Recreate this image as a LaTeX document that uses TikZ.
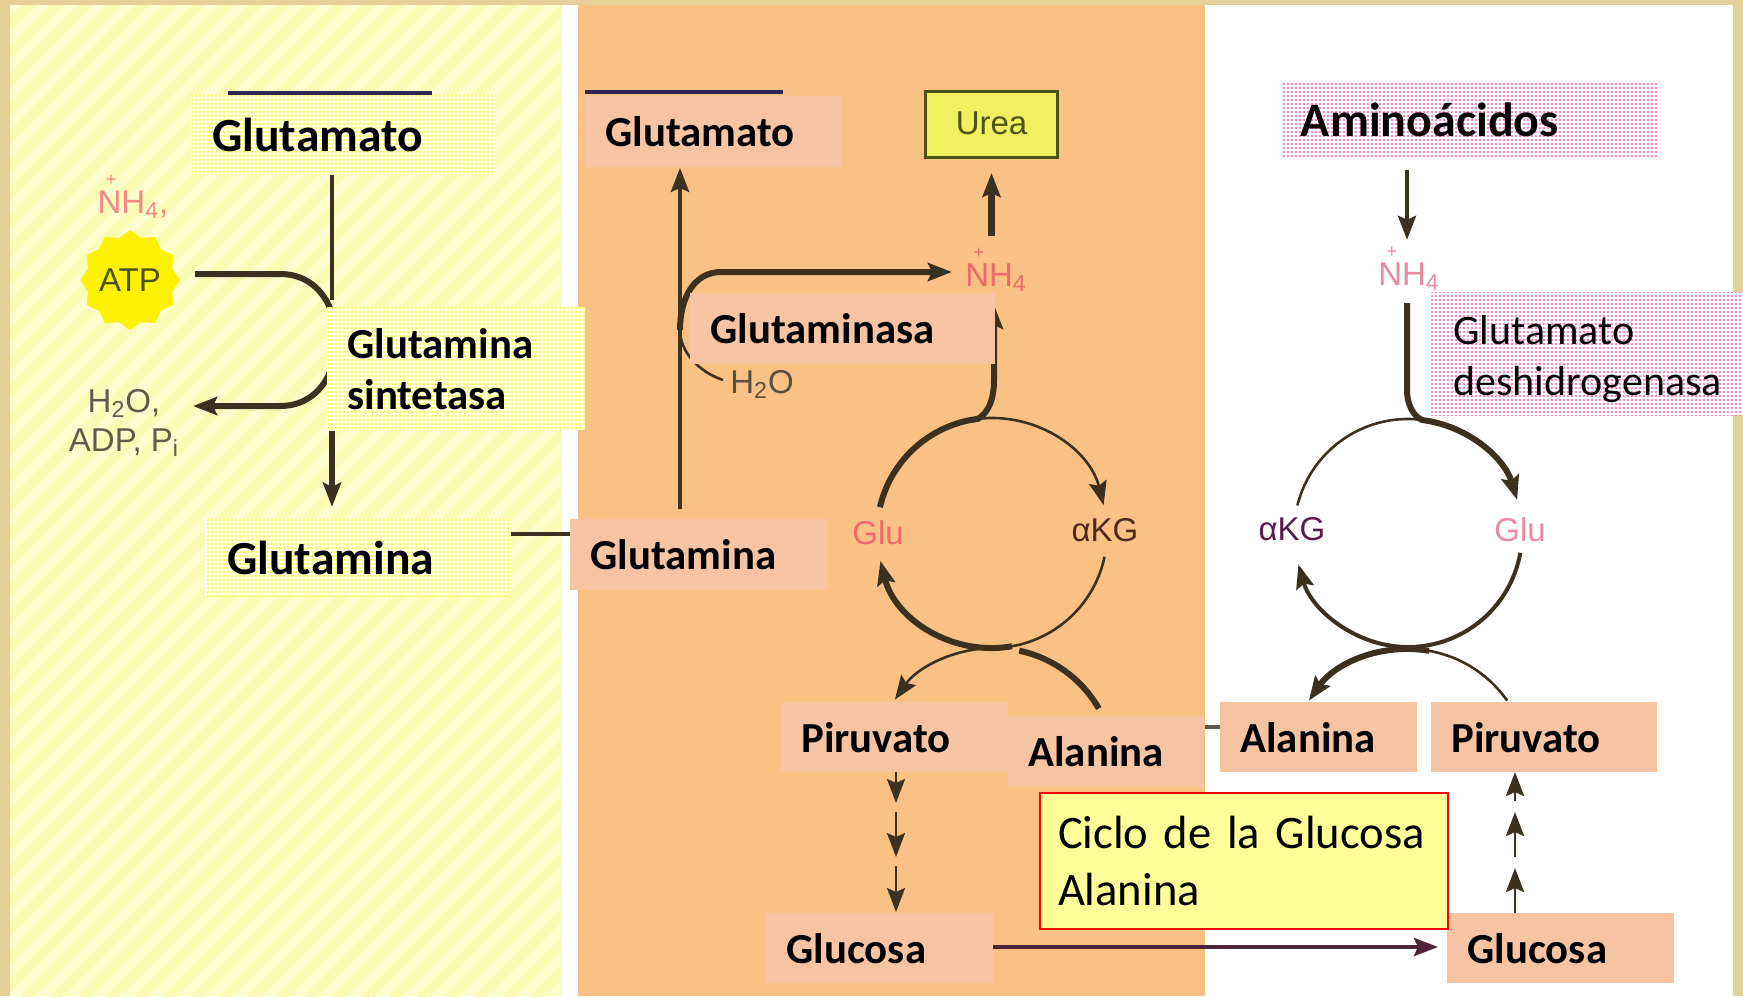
\documentclass[tikz,border=0pt]{standalone}
\usepackage{fontspec}
\setmainfont{Carlito}
\newfontfamily\photofont{Liberation Sans}
\usetikzlibrary{arrows.meta,patterns.meta,shapes.geometric}
\pgfdeclarelayer{panels}
\pgfdeclarelayer{wires}
\pgfsetlayers{panels,wires,main}
\definecolor{frametan}{HTML}{E6D09A}
\definecolor{palelemon}{HTML}{FDFCCC}
\definecolor{stripelemon}{HTML}{FBFBB6}
\definecolor{sheetorange}{HTML}{F9C184}
\definecolor{peach}{HTML}{F6C4A3}
\definecolor{inkbrown}{HTML}{3C3020}
\definecolor{noteyellow}{HTML}{FFFF99}
\definecolor{ureayellow}{HTML}{F0F060}
\definecolor{olive}{HTML}{4E5418}
\definecolor{salmon}{HTML}{EE6A6A}
\definecolor{rosepink}{HTML}{E88AA0}
\definecolor{dotpink}{HTML}{FF55C0}
\definecolor{dotyellow}{HTML}{FFFF33}
\newcommand{\nhfour}{\rlap{\kern.25em\raisebox{.82em}{\fontsize{9pt}{9pt}\selectfont +}}NH\textsubscript{4}}
\tikzset{
	labelbox/.style={anchor=north west, inner ysep=0pt, align=left, font=\fontsize{21.4pt}{25.5pt}\selectfont\bfseries},
	peachbox/.style={labelbox, fill=peach},
	lemonbox/.style={labelbox, preaction={fill=white}, pattern={Dots[distance=2pt,radius=.75pt]}, pattern color=dotyellow},
	pinkbox/.style={labelbox, preaction={fill=white}, pattern={Dots[distance=2pt,radius=.55pt]}, pattern color=dotpink},
	photo/.style={font=\photofont\fontsize{16.5pt}{19.5pt}\selectfont, inner sep=0pt},
	thinwire/.style={draw=inkbrown, line width=1.3pt},
	midwire/.style={draw=inkbrown, line width=2pt},
	thickwire/.style={draw=inkbrown, line width=3pt},
	tipped/.style={-{Stealth[length=12pt,width=9pt,inset=2pt]}},
}
\begin{document}
\begin{tikzpicture}[x=0.5pt,y=-0.5pt]
	\useasboundingbox (0,0) rectangle (1743,996);
	% boxes
	\node[lemonbox, minimum width=152pt, minimum height=39.5pt, text width=141pt, inner xsep=5.5pt, font=\fontsize{23.8pt}{28pt}\selectfont\bfseries] (glutL) at (191,95) {\hspace{5pt}Glutamato};
	\node[lemonbox, minimum width=129pt, minimum height=61.5pt, text width=109pt, inner xsep=10pt] (sintL) at (327,307) {Glutamina\\sintetasa};
	\node[lemonbox, minimum width=152.5pt, minimum height=38.5pt, text width=141.5pt, inner xsep=5.5pt, font=\fontsize{23.8pt}{28pt}\selectfont\bfseries] (glnL) at (205,519) {\hspace{5.5pt}Glutamina};
	\node[peachbox, minimum width=128pt, minimum height=35.5pt, text width=108pt, inner xsep=10pt] (glutM) at (585,96) {Glutamato};
	\node[peachbox, minimum width=129pt, minimum height=35.5pt, text width=109pt, inner xsep=10pt] (glnM) at (570,519) {Glutamina};
	\node[peachbox, minimum width=152.5pt, minimum height=35.5pt, text width=132.5pt, inner xsep=10pt] (enzM) at (690,293) {Glutaminasa};
	\node[draw=olive, fill=ureayellow, line width=1.5pt, minimum width=66pt, minimum height=33pt, anchor=north west, inner sep=0pt, font=\photofont\fontsize{16.5pt}{19.5pt}\selectfont, text=olive] (ureaB) at (924,90) {\raisebox{1pt}{Urea}};
	\node[peachbox, minimum width=113.5pt, minimum height=35pt, text width=93.5pt, inner xsep=10pt] (pirM) at (781,702) {Piruvato};
	\node[peachbox, minimum width=98pt, minimum height=35.5pt, text width=78pt, inner xsep=10pt] (alaM) at (1008,716) {Alanina};
	\node[peachbox, minimum width=113.5pt, minimum height=35pt, text width=93.5pt, inner xsep=10pt] (glcM) at (766,913) {Glucosa};
	\node[pinkbox, minimum width=188.5pt, minimum height=38pt, text width=170pt, inner xsep=8pt, font=\fontsize{24pt}{28pt}\selectfont\bfseries] (aminoR) at (1282,81) {Aminoácidos};
	\node[pinkbox, minimum width=156pt, minimum height=61.5pt, text width=138pt, inner xsep=11pt, font=\fontsize{21pt}{25.5pt}\selectfont] (enzR) at (1431,292) {\rule{0pt}{20pt}Glutamato\\deshidrogenasa};
	\node[peachbox, minimum width=98.5pt, minimum height=35pt, text width=78.5pt, inner xsep=10pt] (alaR) at (1220,702) {Alanina};
	\node[peachbox, minimum width=113pt, minimum height=35pt, text width=93pt, inner xsep=10pt] (pirR) at (1431,702) {Piruvato};
	\node[peachbox, minimum width=113.5pt, minimum height=35pt, text width=93.5pt, inner xsep=10pt] (glcR) at (1447,913) {Glucosa};
	\node[draw=red, fill=noteyellow, line width=1pt, anchor=north west, minimum width=204pt, minimum height=68pt, text width=186pt, inner xsep=9pt, inner ysep=0pt, align=left, font=\fontsize{23.3pt}{28.5pt}\selectfont] (noteC) at (1039,792) {\mbox{Ciclo de la Glucosa}\\Alanina};
	% photo labels
	\node[star, star points=12, star point ratio=1.14, fill=yellow, minimum size=46pt, inner sep=0pt, text=olive, font=\photofont\fontsize{16.5pt}{19.5pt}\selectfont] (atpL) at (130,280) {ATP};
	\node[photo, anchor=base, text=salmon!80!white] (nhL) at (133,213) {\nhfour,};
	\node[photo, align=center, text=inkbrown!80!white] (wasteL) at (124,423) {H\textsubscript{2}O,\\ADP, P\textsubscript{i}};
	\node[photo, anchor=base, text=salmon] (nhM) at (996,286) {\nhfour};
	\node[photo, anchor=base, text=inkbrown!85!white] (waterM) at (762,393) {H\textsubscript{2}O};
	\node[photo, anchor=base, text=salmon] (gluM) at (878,544) {Glu};
	\node[photo, anchor=base, text=inkbrown!90!red] (akgM) at (1105,541) {αKG};
	\node[photo, anchor=base, text=rosepink] (nhR) at (1409,285) {\nhfour};
	\node[photo, anchor=base, text=rosepink] (gluR) at (1520,541) {Glu};
	\node[photo, anchor=base, text=violet!45!inkbrown] (akgR) at (1292,540) {αKG};
	% loop centres and free ends
	\coordinate (loopM) at (992,533);
	\coordinate (loopR) at (1408,533);
	\coordinate (capM) at (994,769);
	\coordinate (capR) at (1408,770);
	\coordinate (atpEnd) at (195,274);
	\coordinate (wasteEnd) at (193,406);
	\coordinate (stemL) at (332,300);
	\coordinate (linkG) at (510,534);
	\coordinate (stemM) at (680,330);
	\coordinate (nhTip) at (952,272);
	\coordinate (waterEnd) at (723,380);
	\coordinate (riseM) at (994,305);
	\coordinate (dnL) at (896,772);
	\coordinate (upR) at (1515,913);
	\coordinate (linkA) at (1204,727);
	\coordinate (linkC) at (993,947);
	\coordinate (dropR) at (1407,303);
	\begin{pgfonlayer}{panels}
		\fill[frametan] (0,0) rectangle (1743,996);
		\fill[palelemon] (10,5) rectangle (562,996);
		\fill[pattern={Lines[angle=45,distance=10pt,line width=5pt]}, pattern color=stripelemon] (10,5) rectangle (562,996);
		\fill[white] (562,5) rectangle (578,996);
		\fill[sheetorange] (578,5) rectangle (1205,996);
		\fill[white] (1205,5) rectangle (1733,996);
	\end{pgfonlayer}
	\begin{pgfonlayer}{wires}
		\draw[midwire, draw=blue!25!inkbrown] (228,93) -- (432,93);
		\draw[midwire, draw=blue!25!inkbrown] (585,92) -- (783,92);
		% left panel
		\draw[midwire] (glutL.south -| stemL) -- (stemL);
		\draw[thickwire, tipped] (sintL.south -| stemL) -- ++(0,76);
		\draw[thickwire, tipped] (atpEnd) -- (280,274) .. controls (316,274) and (336,304) .. (336,340) .. controls (336,376) and (316,406) .. (280,406) -- (wasteEnd);
		\draw[midwire] (glnL.east |- linkG) -- (glnM.west |- linkG);
		% middle panel
		\draw[midwire, line width=2.4pt, tipped] (glnM.north -| stemM) ++(0,-10) -- (glutM.south -| stemM);
		\draw[thickwire, tipped] (stemM) .. controls (680,298) and (694,272) .. (721,272) -- (nhTip);
		\draw[thinwire] (waterEnd) .. controls (699,372) and (680,352) .. (stemM);
		\draw[thickwire, line width=3.5pt, tipped] (ureaB.south) ++(0,77) -- ++(0,-63);
		\draw[thickwire, tipped] (loopM) ++(-167:115) arc[start angle=-167, end angle=-97, radius=115] .. controls (988,413) and (994,400) .. (994,380) -- (riseM);
		\draw[thinwire, tipped] (loopM) ++(-97:115) arc[start angle=-97, end angle=-14, radius=115];
		\draw[thinwire] (loopM) ++(12:115) arc[start angle=12, end angle=80, radius=115];
		\draw[thickwire, tipped] (loopM) ++(80:115) arc[start angle=80, end angle=166, radius=115];
		\draw[thickwire] (capM) ++(-78:121) arc[start angle=-78, end angle=-30, radius=121];
		\draw[thinwire, tipped] (capM) ++(-90:121) arc[start angle=-90, end angle=-145, radius=121];
		\draw[thinwire, tipped] (dnL) -- ++(0,31);
		\draw[thinwire, tipped] (dnL) ++(0,40) -- ++(0,45);
		\draw[thinwire, tipped] (dnL) ++(0,94) -- ++(0,46);
		\draw[midwire, line width=2.4pt, draw=gray!50!inkbrown] (alaM.east |- linkA) -- (alaR.west |- linkA);
		\draw[midwire, draw=violet!25!inkbrown, tipped] (linkC) -- ([xshift=-4.5pt]glcR.west |- linkC);
		% right panel
		\draw[midwire, tipped] (aminoR.south -| nhR) ++(-2,12) -- ++(0,70);
		\draw[thickwire, tipped] (dropR) -- (1407,390) .. controls (1407,404) and (1413,416) .. (1422,420) arc[start angle=-83, end angle=-17, radius=114];
		\draw[thinwire] (loopR) ++(-166:114) arc[start angle=-166, end angle=-80, radius=114];
		\draw[midwire, tipped] (loopR) ++(10:114) arc[start angle=10, end angle=164, radius=114];
		\draw[thinwire] (capR) ++(-95:121) arc[start angle=-95, end angle=-35, radius=121];
		\draw[thickwire, tipped] (capR) ++(-80:121) arc[start angle=-80, end angle=-145, radius=121];
		\draw[thinwire, tipped] (upR) -- ++(0,-45);
		\draw[thinwire, tipped] (upR) ++(0,-56) -- ++(0,-45);
		\draw[thinwire, tipped] (upR) ++(0,-112) -- ++(0,-29);
	\end{pgfonlayer}
\end{tikzpicture}
\end{document}
